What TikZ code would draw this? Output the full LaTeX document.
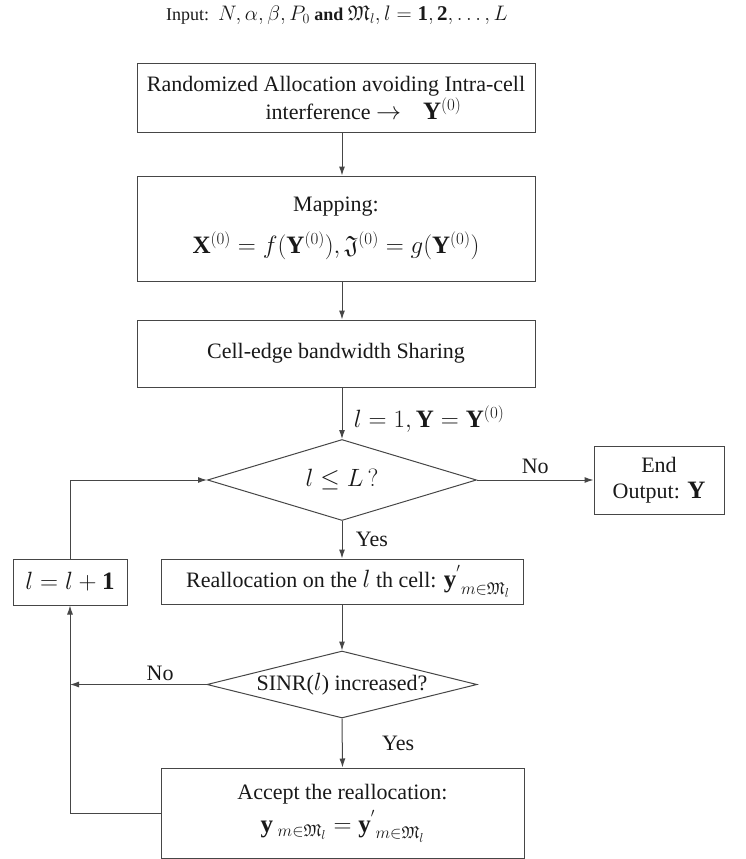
\RequirePackage{fix-cm}
\documentclass[tikz,border=0pt]{standalone}
\usepackage{amsmath,amsfonts}
\usepackage{fontspec}
\setmainfont{Liberation Serif}
\usetikzlibrary{shapes.geometric,arrows.meta}
\DeclareMathSizes{22}{25}{17}{13}
\DeclareMathSizes{18}{21}{14}{11}
\definecolor{linec}{RGB}{70,70,70}
\definecolor{txtc}{RGB}{25,25,25}
\newcommand{\mainsz}{\fontsize{22}{26}\selectfont}
\tikzset{
  box/.style={draw=linec, line width=1pt, rectangle, inner sep=2pt, align=center, font=\mainsz, text=txtc},
  dia/.style={draw=linec, line width=1pt, diamond, inner sep=0pt, font=\mainsz, text=txtc},
  arr/.style={draw=linec, line width=1pt, -{Latex[length=9pt,width=6pt]}},
  lbl/.style={font=\mainsz, text=txtc}
}
\begin{document}
\begin{tikzpicture}[x=1pt,y=-1pt]
\useasboundingbox (0,0) rectangle (746,859);
\node[font=\fontsize{18}{21}\selectfont, text=txtc] (title) at (337,15) {Input:\ \ $N,\alpha,\beta,P_0$ \textbf{and} $\mathfrak{M}_l,l=\mathbf{1},\mathbf{2},\ldots,L$};
\node[box, minimum width=398pt, minimum height=68pt] (b1) at (336,98) {Randomized Allocation avoiding Intra-cell\\\hspace*{2.5em}interference $\rightarrow$\quad $\mathbf{Y}^{(0)}$};
\node[box, minimum width=398pt, minimum height=105pt] (b2) at (336,228.5) {Mapping:\\[14pt] $\mathbf{X}^{(0)}=f(\mathbf{Y}^{(0)}),\mathfrak{J}^{(0)}=g(\mathbf{Y}^{(0)})$};
\node[box, minimum width=398pt, minimum height=67pt] (b3) at (336,353.5) {Cell-edge bandwidth Sharing};
\node[dia, aspect=3.3, minimum width=269pt, minimum height=81pt] (d1) at (342,480) {$l\le L\,?$};
\node[box, minimum width=130pt, minimum height=68pt] (endb) at (659,480) {End\\Output: $\mathbf{Y}$};
\node[box, minimum width=114pt, minimum height=46pt] (inc) at (70,582) {$l=l+\mathbf{1}$};
\node[box, minimum width=362pt, minimum height=45pt] (re) at (342,581.5) {\hspace*{12pt}Reallocation on the $l$ th cell: $\mathbf{y}^{'}_{\;m\in\mathfrak{M}_l}$};
\node[dia, aspect=4.1, minimum width=270pt, minimum height=67pt] (d2) at (342,684.5) {SINR($l$) increased?};
\node[box, minimum width=363pt, minimum height=90pt] (acc) at (342.5,813) {Accept the reallocation:\\[5pt] $\mathbf{y}_{\;m\in\mathfrak{M}_l}=\mathbf{y}^{'}_{\;m\in\mathfrak{M}_l}$};
\draw[arr] (b1.south -| d1.north) -- (b2.north -| d1.north);
\draw[arr] (b2.south -| d1.north) -- (b3.north -| d1.north);
\draw[arr] (b3.south -| d1.north) -- node[lbl, right, xshift=8pt, yshift=-6pt] {$l=1,\mathbf{Y}=\mathbf{Y}^{(0)}$} (d1.north);
\draw[arr] (d1.east) -- node[lbl, above, yshift=2pt] {No} (endb.west);
\draw[arr] (d1.south) -- node[lbl, right, xshift=10pt] {Yes} (re.north);
\draw[arr] (re.south) -- (d2.north);
\draw[arr] (d2.south) -- node[lbl, right, xshift=36pt] {Yes} (acc.north);
\draw[arr] (d2.west) -- node[lbl, above, pos=0.34] {No} (d2.west -| inc.south);
\draw[arr] (acc.west) -- (acc.west -| inc.south) -- (inc.south);
\draw[arr] (inc.north) |- (d1.west);
\end{tikzpicture}
\end{document}
